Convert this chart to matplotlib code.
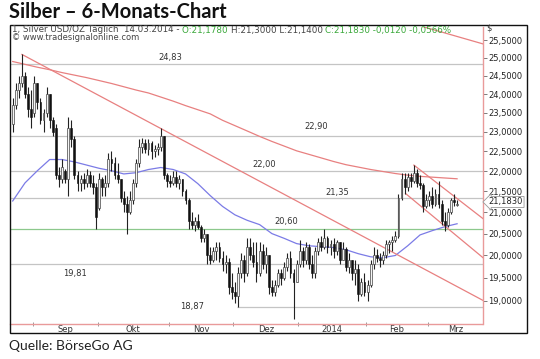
import numpy as np
import pandas as pd
import matplotlib
matplotlib.use('Agg')
import matplotlib.pyplot as plt
from matplotlib.patches import Rectangle
from matplotlib.ticker import FixedLocator, NullLocator, FuncFormatter
from matplotlib.transforms import blended_transform_factory

# ---------------- data ----------------
dates = pd.bdate_range('2013-08-22', '2014-03-14')
dates = dates[~dates.isin(pd.to_datetime(['2013-12-25', '2014-01-01']))]

opens = [23.20, 23.70, 24.10, 24.30, 24.50, 24.00, 23.60, 23.50, 24.30, 23.80,
         23.30, 23.50, 24.00, 23.30, 23.10, 21.90, 21.80, 22.00, 21.80, 23.10,
         22.80, 21.90, 21.70, 21.80, 21.70, 21.90, 21.70, 21.60, 21.10, 21.80,
         21.60, 21.70, 22.30, 22.20, 21.90, 21.80, 21.35, 21.20, 21.00, 21.30,
         21.70, 22.20, 22.60, 22.70, 22.55, 22.70, 22.50, 22.55, 22.60, 22.90,
         21.90, 21.75, 21.70, 21.85, 21.70, 21.80, 21.50, 21.30, 20.80, 20.70,
         20.80, 20.65, 20.40, 20.50, 20.00, 19.90, 20.10, 20.20, 19.95, 19.80,
         19.85, 19.30, 19.20, 19.10, 19.60, 19.90, 19.60, 20.20, 20.00, 19.85,
         19.60, 20.10, 19.80, 20.00, 19.30, 19.20, 19.35, 19.60, 19.50, 19.75,
         19.95, 19.60, 19.40, 19.80, 20.10, 19.90, 20.20, 19.80, 19.60, 20.10,
         20.30, 20.20, 20.40, 20.20, 20.25, 20.10, 20.30, 19.90, 20.15, 19.75,
         19.90, 19.60, 19.70, 19.15, 19.40, 19.20, 19.35, 19.80, 20.00, 19.95,
         19.90, 20.00, 20.25, 20.30, 20.35, 20.45, 21.35, 21.80, 21.60, 21.85,
         21.75, 21.95, 21.70, 21.65, 21.15, 21.30, 21.40, 21.20, 21.45, 21.20,
         20.80, 20.70, 21.00, 21.30, 21.178]
highs = [23.90, 24.30, 24.50, 25.10, 24.60, 24.20, 24.10, 24.50, 24.30, 23.90,
         23.60, 24.20, 24.00, 23.40, 23.20, 22.10, 22.30, 22.05, 23.40, 23.30,
         22.90, 22.00, 21.90, 21.95, 22.05, 22.00, 21.90, 21.70, 21.95, 21.85,
         21.90, 22.45, 22.50, 22.35, 22.20, 21.80, 21.50, 21.40, 21.50, 21.80,
         22.30, 22.80, 22.85, 22.80, 22.80, 22.75, 22.65, 22.70, 23.10, 22.90,
         21.95, 21.90, 22.00, 22.00, 21.90, 21.80, 21.55, 21.35, 21.00, 20.90,
         20.95, 20.70, 20.60, 20.50, 20.20, 20.20, 20.30, 20.30, 20.10, 20.00,
         19.95, 19.60, 19.40, 19.75, 20.05, 20.00, 20.40, 20.40, 20.30, 20.30,
         20.30, 20.25, 20.20, 20.00, 19.45, 19.45, 19.70, 19.70, 19.85, 20.05,
         20.10, 19.70, 19.90, 20.35, 20.20, 20.30, 20.25, 20.00, 20.20, 20.40,
         20.45, 20.60, 20.45, 20.35, 20.40, 20.35, 20.30, 20.30, 20.20, 20.05,
         19.90, 19.90, 19.80, 19.50, 19.60, 19.45, 19.90, 20.20, 20.15, 20.05,
         20.10, 20.35, 20.35, 20.45, 20.55, 21.45, 21.95, 21.95, 21.95, 21.95,
         22.15, 22.05, 21.90, 21.70, 21.45, 21.50, 21.60, 21.55, 21.75, 21.30,
         21.00, 21.10, 21.35, 21.45, 21.30]
lows = [23.00, 23.60, 23.90, 24.20, 23.90, 23.40, 23.10, 23.40, 23.60, 23.20,
        23.00, 23.40, 23.10, 22.90, 21.80, 21.60, 21.70, 21.70, 21.40, 22.60,
        21.80, 21.50, 21.50, 21.55, 21.60, 21.60, 21.45, 20.60, 21.05, 21.40,
        21.40, 21.60, 22.00, 21.80, 21.70, 21.25, 21.00, 20.50, 20.95, 21.20,
        21.60, 22.10, 22.45, 22.45, 22.40, 22.30, 22.35, 22.40, 22.50, 21.80,
        21.60, 21.60, 21.65, 21.60, 21.55, 21.40, 21.20, 20.60, 20.60, 20.55,
        20.60, 20.30, 20.30, 19.80, 19.80, 19.85, 19.90, 19.85, 19.65, 19.60,
        19.15, 19.05, 18.95, 18.87, 19.50, 19.40, 19.55, 19.90, 19.75, 19.40,
        19.55, 19.70, 19.60, 19.15, 19.10, 19.10, 19.30, 19.35, 19.45, 19.65,
        19.50, 18.62, 19.40, 19.75, 19.75, 19.80, 19.70, 19.50, 19.50, 20.00,
        20.10, 20.15, 20.05, 20.00, 19.95, 20.00, 19.80, 19.90, 19.65, 19.60,
        19.45, 19.35, 19.00, 19.10, 19.10, 19.00, 19.30, 19.70, 19.85, 19.75,
        19.80, 19.95, 20.05, 20.10, 20.30, 20.40, 21.30, 21.45, 21.50, 21.60,
        21.70, 21.60, 21.55, 21.00, 21.10, 21.15, 21.10, 21.15, 21.10, 20.70,
        20.55, 20.65, 20.95, 21.15, 21.14]
closes = [23.70, 24.10, 24.30, 24.50, 24.00, 23.60, 23.40, 24.30, 23.80, 23.30,
          23.50, 24.00, 23.30, 23.00, 21.90, 21.80, 22.10, 21.80, 23.10, 22.80,
          21.90, 21.70, 21.80, 21.70, 21.90, 21.70, 21.60, 20.90, 21.80, 21.60,
          21.70, 22.30, 22.20, 21.90, 21.80, 21.35, 21.20, 21.00, 21.30, 21.70,
          22.20, 22.60, 22.70, 22.55, 22.70, 22.50, 22.55, 22.60, 22.90, 21.90,
          21.75, 21.70, 21.85, 21.70, 21.80, 21.50, 21.30, 20.80, 20.70, 20.80,
          20.65, 20.40, 20.50, 20.00, 19.90, 20.10, 20.20, 19.95, 19.80, 19.85,
          19.30, 19.20, 19.10, 19.60, 19.90, 19.60, 20.20, 20.00, 19.85, 19.60,
          20.10, 19.80, 20.00, 19.30, 19.20, 19.35, 19.60, 19.50, 19.75, 19.95,
          19.60, 19.40, 19.80, 20.10, 19.90, 20.20, 19.80, 19.60, 20.10, 20.30,
          20.20, 20.40, 20.20, 20.25, 20.10, 20.30, 19.90, 20.15, 19.75, 19.90,
          19.60, 19.70, 19.15, 19.40, 19.20, 19.35, 19.80, 20.00, 19.95, 19.90,
          20.00, 20.25, 20.30, 20.35, 20.45, 21.35, 21.80, 21.60, 21.85, 21.75,
          21.95, 21.70, 21.65, 21.15, 21.30, 21.40, 21.20, 21.45, 21.20, 20.80,
          20.70, 21.00, 21.30, 21.25, 21.183]

# 50-day average (blue), sampled every 4 bars
ma50 = [21.27, 21.71, 22.01, 22.29, 22.29, 22.23, 22.15, 22.07, 22.01, 21.93,
        21.96, 22.04, 22.09, 22.04, 21.93, 21.69, 21.40, 21.14, 20.94, 20.81,
        20.71, 20.50, 20.39, 20.27, 20.22, 20.20, 20.18, 20.13, 20.04, 19.97,
        19.95, 20.00, 20.22, 20.47, 20.57, 20.66, 20.73]
# 200-day average (red), sampled every 4 bars
ma200 = [24.90, 24.82, 24.74, 24.67, 24.59, 24.52, 24.45, 24.37, 24.29, 24.20,
         24.11, 24.03, 23.92, 23.81, 23.69, 23.58, 23.47, 23.30, 23.16, 23.02,
         22.88, 22.75, 22.63, 22.51, 22.42, 22.33, 22.24, 22.16, 22.10, 22.04,
         21.99, 21.94, 21.90, 21.87, 21.85, 21.83, 21.81]

# trend lines: (bar index, price) start / end
trend_lines = [((3, 25.10), (152.4, 19.01)),
               ((130, 22.15), (152.4, 20.85)),
               ((127.3, 21.45), (152.4, 19.95)),
               ((131, 25.95), (152.4, 25.40))]

levels = [24.83, 22.90, 22.00, 21.35, 20.60, 19.81, 18.87]
level_text = ['24,83', '22,90', '22,00', '21,35', '20,60', '19,81', '18,87']
level_label_x = [51.0, 98.3, 81.5, 105.1, 88.6, 20.2, 58.1]
level_label_dy = [5.0, 6.5, 5.0, 3.5, 5.5, -7.0, 0.0]

yticks = [19.0, 19.5, 20.0, 20.5, 21.0, 21.5, 22.0, 22.5, 23.0, 23.5,
          24.0, 24.5, 25.0, 25.5]
month_labels = ['Sep', 'Okt', 'Nov', 'Dez', '2014', 'Feb', 'Mrz']
last_price = 21.183

# ---------------- figure ----------------
W, H = 540, 359
fig = plt.figure(figsize=(5.4, 3.59), dpi=100)
fig.patch.set_facecolor('white')


def fx(px):
    return px / W


def fy(py):
    return 1 - py / H


fig.patches.append(Rectangle((fx(10), fy(333)), fx(527) - fx(10), fy(25) - fy(333),
                             transform=fig.transFigure, fill=False, ec='#111111', lw=1.0))

ax = fig.add_axes([fx(10), fy(324), (483 - 10) / W, (324 - 27) / H])
ax.patch.set_alpha(0)
ax.set_yscale('log')
ax.set_ylim(18.51, 25.89)
ax.set_xlim(-0.875, 152.4)

n = len(closes)
idx = np.arange(n)
o = np.array(opens); h = np.array(highs); l = np.array(lows); c = np.array(closes)

# horizontal levels
for lv, txt, lx, dy in zip(levels, level_text, level_label_x, level_label_dy):
    col = '#8cc88c' if lv == 20.60 else '#c4c4c4'
    x0 = 72.6 if lv == 18.87 else -0.875
    ax.hlines(lv, x0, 152.4, color=col, lw=0.9, zorder=1)
    ax.annotate(txt, (lx, lv), xytext=(0, dy), textcoords='offset points',
                ha='center', va='center', fontsize=6, color='#333333',
                family='DejaVu Sans', zorder=5)

# moving averages
ax.plot(np.arange(0, n, 4), ma50, color='#7b7be6', lw=0.9, zorder=2)
ax.plot(np.arange(0, n, 4), ma200, color='#e88080', lw=0.9, zorder=2)

# trend lines
for (a, b) in trend_lines:
    ax.plot([a[0], b[0]], [a[1], b[1]], color='#e88080', lw=0.9, zorder=2)

# candles
ax.vlines(idx, l, h, color='#222222', lw=0.8, zorder=3)
up = c >= o
bot = np.minimum(o, c)
hei = np.maximum(np.abs(c - o), 0.02)
ax.bar(idx[~up], hei[~up], bottom=bot[~up], width=0.6, color='#111111',
       edgecolor='#111111', lw=0.4, zorder=4)
ax.bar(idx[up], hei[up], bottom=bot[up], width=0.6, color='#f4f4f4',
       edgecolor='#444444', lw=0.5, zorder=4)

# spines
for s in ['left', 'top']:
    ax.spines[s].set_visible(False)
for s in ['right', 'bottom']:
    ax.spines[s].set_color('#e99a9a')
    ax.spines[s].set_linestyle((0, (1.2, 1.0)))
    ax.spines[s].set_linewidth(1.0)

# y axis on right
ax.yaxis.tick_right()
ax.yaxis.set_major_locator(FixedLocator(yticks))
ax.yaxis.set_minor_locator(NullLocator())
ax.yaxis.set_major_formatter(FuncFormatter(lambda v, p: f"{v:.4f}".replace('.', ',')))
ax.tick_params(axis='y', which='major', length=3, width=0.6, color='#666666',
               labelsize=6, pad=1, labelcolor='#222222')

# x axis months
first_idx = [i for i in range(1, n) if dates[i].month != dates[i - 1].month]
bounds = [i - 0.5 for i in first_idx]
edges = bounds + [152.4]
centers = [(edges[k] + edges[k + 1]) / 2 for k in range(len(edges) - 1)]
ax.xaxis.set_major_locator(FixedLocator(bounds))
ax.xaxis.set_major_formatter(FuncFormatter(lambda v, p: ''))
ax.xaxis.set_minor_locator(FixedLocator(centers))
ax.xaxis.set_minor_formatter(FuncFormatter(lambda v, p: month_labels[p] if p < len(month_labels) else ''))
ax.tick_params(axis='x', which='major', length=3, width=0.6, color='#888888', direction='inout')
ax.tick_params(axis='x', which='minor', length=0, labelsize=6, pad=1.0, labelcolor='#333333')

# last price box
tr = blended_transform_factory(ax.transAxes, ax.transData)
ax.text(1.012, last_price * 1.003, f"{last_price:.4f}".replace('.', ','), transform=tr,
        fontsize=6, color='#222222', va='center', ha='left', zorder=10,
        bbox=dict(boxstyle='larrow,pad=0.12', fc='white', ec='#999999', lw=0.6),
        clip_on=False)

fig.text(fx(486), fy(28), '$', fontsize=6, color='#333333', va='center', ha='left')

# header lines
renderer = fig.canvas.get_renderer()
parts = [("1, Silver USD/OZ Täglich  14.03.2014 - ", '#444444'),
         ("O:21,1780 ", '#3aa83a'),
         ("H:21,3000 L:21,1400 ", '#444444'),
         ("C:21,1830 -0,0120 -0,0566%", '#3aa83a')]
xpos = 12
for txt, col in parts:
    t = fig.text(fx(xpos), fy(30), txt, fontsize=6.3, color=col, va='center', ha='left')
    bb = t.get_window_extent(renderer)
    xpos += bb.width
fig.text(fx(12), fy(38), '© www.tradesignalonline.com', fontsize=6, color='#444444',
         va='center', ha='left')

fig.text(fx(9), fy(12), 'Silber – 6-Monats-Chart', fontsize=14.5, fontweight='bold',
         family='Lato', va='center', ha='left', color='#111111')
fig.text(fx(9), fy(346), 'Quelle: BörseGo AG', fontsize=10, family='Lato',
         va='center', ha='left', color='#222222')

fig.savefig('out.png', dpi=100)
